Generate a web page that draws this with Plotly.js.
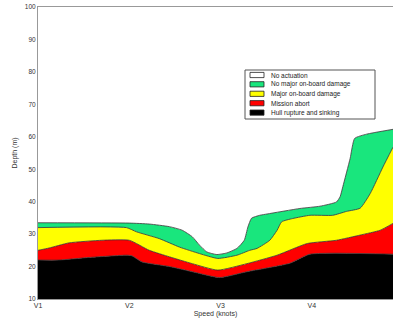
<!DOCTYPE html>
<html><head><meta charset="utf-8">
<script src="https://cdn.plot.ly/plotly-3.0.1.min.js"></script>
<style>html,body{margin:0;padding:0;background:#fff}#chart{width:393px;height:324px}</style>
</head><body><div id="chart"></div>
<script>
// Data (speed in units where V1=1 ... V5=5, depth in m) - upper boundary of each outcome region
const hullX = [1.00,1.23,1.56,1.97,2.03,2.14,2.44,2.69,2.99,3.29,3.76,3.98,4.89];
const hullY = [22,22,22.8,23.5,23.3,21.4,20,18.4,16.6,18.4,21,23.8,23.8];

const abortX = [1.00,1.12,1.34,1.70,2.00,2.22,2.44,2.69,2.97,3.29,3.62,3.95,4.27,4.53,4.75,4.89];
const abortY = [25,25.7,27.3,28.1,28.1,25,23,20.9,18.9,20.9,23.5,27.1,28.1,29.7,31.2,33.3];

const majorX = [1.00,1.97,2.08,2.33,2.55,2.77,2.97,3.18,3.32,3.40,3.54,3.62,3.67,3.79,3.98,4.23,4.38,4.53,4.64,4.78,4.89];
const majorY = [32,32,30.7,28.6,26,24,22.5,23.5,25,25.6,28.1,31.2,33.8,34.8,35.8,35.8,37,38,42.5,50.7,56.8];

const noMajorX = [1.00,2.00,2.22,2.44,2.58,2.69,2.77,2.85,2.96,3.07,3.18,3.26,3.30,3.34,3.43,3.51,3.87,4.09,4.27,4.31,4.34,4.42,4.47,4.60,4.89];
const noMajorY = [33.5,33.4,33.1,32.3,31.2,29.2,26.6,24.5,23.7,24.2,25.6,28.1,32.2,34.9,35.8,36.2,37.9,38.6,39.9,41.5,44.6,53.3,59.5,60.8,62.3];

const noActX = [1.00,4.89];
const noActY = [100,100];

const xTickVals = [1,2,3,4];
const xTickText = ['V1','V2','V3','V4'];
const extraTick = 'V5';
const yTickVals = [10,20,30,40,50,60,70,80,90,100];

const legendLabels = ['No actuation','No major on-board damage','Major on-board damage','Mission abort','Hull rupture and sinking'];
const legendColors = ['#ffffff','#19e67d','#ffff00','#ff0000','#000000'];

const fontFam = 'Liberation Sans, Arial, sans-serif';
const edge = {color:'#333333', width:0.8, shape:'spline', smoothing:0.5};

const traces = [
  {x:hullX, y:hullY, mode:'lines', line:edge, fill:'tozeroy', fillcolor:legendColors[4], name:legendLabels[4]},
  {x:abortX, y:abortY, mode:'lines', line:edge, fill:'tonexty', fillcolor:legendColors[3], name:legendLabels[3]},
  {x:majorX, y:majorY, mode:'lines', line:edge, fill:'tonexty', fillcolor:legendColors[2], name:legendLabels[2]},
  {x:noMajorX, y:noMajorY, mode:'lines', line:edge, fill:'tonexty', fillcolor:legendColors[1], name:legendLabels[1]},
  {x:noActX, y:noActY, mode:'lines', line:{width:0}, fill:'tonexty', fillcolor:legendColors[0], name:legendLabels[0]}
];

// pixel helpers for legend box placement (plot area: left 38, top 7, width 355, height 292)
const L = 38, T = 7, W = 355, H = 292;
const px = v => (v - L) / W;
const py = v => (T + H - v) / H;

const shapes = [{type:'rect', xref:'paper', yref:'paper', x0:px(245), x1:px(375), y0:py(70), y1:py(119),
  fillcolor:'#ffffff', line:{color:'#555555', width:1}}];
const annotations = [];
const rowY = [75, 84.3, 93.8, 103.2, 112.6];
legendLabels.forEach((lab, i) => {
  shapes.push({type:'rect', xref:'paper', yref:'paper', x0:px(250), x1:px(264), y0:py(rowY[i]-2.6), y1:py(rowY[i]+2.6),
    fillcolor:legendColors[i], line:{color:'#222222', width:0.8}});
  annotations.push({xref:'paper', yref:'paper', x:px(269), y:py(rowY[i]), xanchor:'left', yanchor:'middle',
    text:lab, showarrow:false, font:{family:fontFam, size:6.5, color:'#222'}});
});
annotations.push({xref:'paper', yref:'paper', x:px(397), y:0, yshift:-8, xanchor:'center', yanchor:'middle',
  text:extraTick, showarrow:false, font:{family:fontFam, size:7, color:'#333'}});

const layout = {
  width:393, height:324,
  margin:{l:38, r:0, t:7, b:25},
  paper_bgcolor:'#ffffff', plot_bgcolor:'#ffffff',
  showlegend:false,
  font:{family:fontFam, size:7, color:'#333'},
  xaxis:{range:[1,4.89], tickvals:xTickVals, ticktext:xTickText, showgrid:false, zeroline:false,
    showline:true, mirror:true, linecolor:'#999', linewidth:1, ticks:'',
    tickfont:{size:7, color:'#333'}, title:{text:'Speed (knots)', font:{size:7, color:'#333'}, standoff:2}},
  yaxis:{range:[10,100], tickvals:yTickVals, showgrid:false, zeroline:false,
    showline:true, linecolor:'#999', linewidth:1, ticks:'',
    tickfont:{size:6.5, color:'#333'}, title:{text:'Depth (m)', font:{size:7, color:'#333'}, standoff:6}},
  shapes:shapes, annotations:annotations
};

Plotly.newPlot('chart', traces, layout, {staticPlot:true, displayModeBar:false});
</script></body></html>
